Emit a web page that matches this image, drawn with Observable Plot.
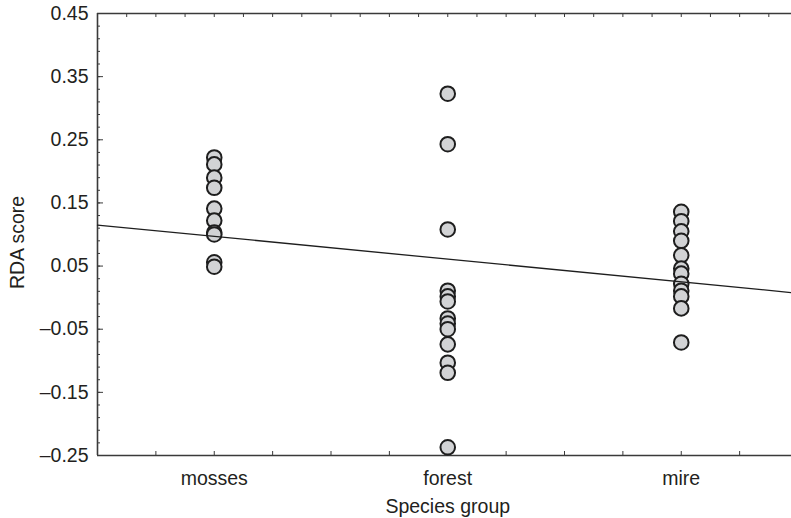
<!DOCTYPE html>
<html>
<head>
<meta charset="utf-8">
<script src="https://cdn.jsdelivr.net/npm/d3@7"></script>
<script src="https://cdn.jsdelivr.net/npm/@observablehq/plot@0.6"></script>
<style>
  html, body { margin: 0; padding: 0; background: #ffffff; }
  #chart svg { display: block; }
</style>
</head>
<body>
<div id="chart"></div>
<script>
// Categories (x positions 1, 2, 3)
const groups = ["mosses", "forest", "mire"];

// RDA scores, one array per species group
const mossesScores = [0.222, 0.211, 0.190, 0.174, 0.141, 0.122, 0.103, 0.100, 0.056, 0.049];
const forestScores = [0.323, 0.243, 0.108, 0.011, 0.002, -0.006, -0.033, -0.041, -0.050, -0.074, -0.103, -0.119, -0.237];
const mireScores = [0.136, 0.121, 0.105, 0.090, 0.067, 0.046, 0.038, 0.022, 0.011, 0.002, -0.017, -0.071];

// Fitted trend line (x in group units, y in RDA score)
const trendX = [0.5, 3.5];
const trendY = [0.115, 0.007];

// Axis tick labels
const yTickValues = [0.45, 0.35, 0.25, 0.15, 0.05, -0.05, -0.15, -0.25];
const xTickValues = [1, 2, 3];

const xLabel = "Species group";
const yLabel = "RDA score";

const points = [
  ...mossesScores.map(v => ({g: 1, v})),
  ...forestScores.map(v => ({g: 2, v})),
  ...mireScores.map(v => ({g: 3, v}))
];
const trend = trendX.map((x, i) => ({x, y: trendY[i]}));

const yMinor = d3.range(-25, 46, 2).map(d => d / 100);
const xMinorBottom = d3.range(0.5, 3.51, 0.25);
const xMinorTop = d3.range(0.5, 3.51, 0.125);

const fmt = d => (d < 0 ? "\u2013" : "") + Math.abs(d).toFixed(2);
const ink = "#231f20";
const axisInk = "#3a3a3a";
const fs = 19.5;

const chart = Plot.plot({
  width: 791,
  height: 518,
  marginLeft: 97,
  marginRight: -6.5,
  marginTop: 13,
  marginBottom: 63,
  x: {type: "linear", domain: [0.5, 3.5]},
  y: {type: "linear", domain: [-0.25, 0.45]},
  style: {fontFamily: "'Liberation Sans', Arial, sans-serif", fontSize: fs + "px", color: ink, background: "#ffffff"},
  marks: [
    // frame lines
    Plot.ruleY([0.45, -0.25], {stroke: axisInk, strokeWidth: 1.6}),
    Plot.ruleX([0.5], {stroke: axisInk, strokeWidth: 1.6}),
    // y axis labels
    Plot.axisY({ticks: yTickValues, tickSize: 0, tickPadding: 9, tickFormat: fmt, label: null, fontSize: fs, fill: ink}),
    // y ticks (inward)
    Plot.axisY({ticks: yTickValues, tickSize: -6, tickFormat: () => "", label: null, stroke: axisInk}),
    Plot.axisY({ticks: yMinor, tickSize: -3, tickFormat: () => "", label: null, stroke: axisInk}),
    // x axis labels
    Plot.axisX({ticks: xTickValues, tickSize: 0, tickPadding: 16, tickFormat: d => groups[d - 1], label: null, fontSize: fs, fill: ink}),
    Plot.axisX({ticks: xMinorBottom, tickSize: -4, tickFormat: () => "", label: null, stroke: axisInk}),
    Plot.axisX({anchor: "top", ticks: xMinorTop, tickSize: -3, tickFormat: () => "", label: null, stroke: axisInk}),
    // axis titles
    Plot.text([xLabel], {frameAnchor: "bottom", dy: 51, fontSize: fs, fill: ink, lineAnchor: "middle", textAnchor: "middle"}),
    Plot.text([yLabel], {frameAnchor: "left", dx: -80, dy: 8, rotate: -90, fontSize: fs, fill: ink, lineAnchor: "middle", textAnchor: "middle"}),
    // data
    Plot.dot(points, {x: "g", y: "v", r: 7.3, fill: "#d2d3d5", stroke: "#1e1e1e", strokeWidth: 2}),
    Plot.line(trend, {x: "x", y: "y", stroke: "#1e1e1e", strokeWidth: 1.3})
  ]
});
document.getElementById("chart").appendChild(chart);
</script>
</body>
</html>
